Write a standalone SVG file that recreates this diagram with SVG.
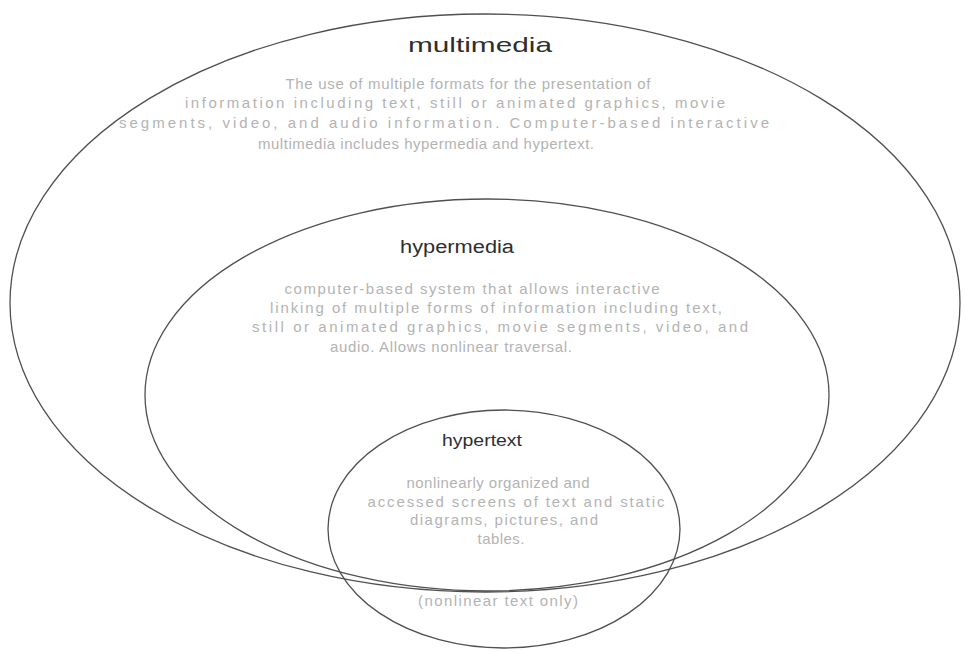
<svg xmlns="http://www.w3.org/2000/svg" width="965" height="653" viewBox="0 0 965 653">
  <style>
    .ring { fill: none; stroke: #505050; stroke-width: 1.3; }
    .title { font-family: "Liberation Sans", Arial, sans-serif; fill: #2e2e2e; text-anchor: middle; }
    .desc { font-family: "Liberation Sans", Arial, sans-serif; font-size: 15px; fill: #b3b3b3; text-anchor: middle; }
  </style>
  <rect width="965" height="653" fill="#ffffff"/>

  <!-- outermost set -->
  <g id="multimedia">
    <ellipse class="ring" cx="485" cy="303" rx="475" ry="289"/>
    <text class="title" x="480" y="52" font-size="21" textLength="144" lengthAdjust="spacingAndGlyphs">multimedia</text>
    <text class="desc" x="468" y="89" textLength="365" lengthAdjust="spacing">The use of multiple formats for the presentation of</text>
    <text class="desc" x="455" y="108" textLength="540" lengthAdjust="spacing">information including text, still or animated graphics, movie</text>
    <text class="desc" x="444" y="128" textLength="650" lengthAdjust="spacing">segments, video, and audio information. Computer-based interactive</text>
    <text class="desc" x="426" y="149" textLength="336" lengthAdjust="spacing">multimedia includes hypermedia and hypertext.</text>
  </g>

  <!-- middle set -->
  <g id="hypermedia">
    <ellipse class="ring" cx="487" cy="395" rx="342" ry="196"/>
    <text class="title" x="457" y="253" font-size="18" textLength="114" lengthAdjust="spacingAndGlyphs">hypermedia</text>
    <text class="desc" x="472" y="294" textLength="375" lengthAdjust="spacing">computer-based system that allows interactive</text>
    <text class="desc" x="496" y="313" textLength="452" lengthAdjust="spacing">linking of multiple forms of information including text,</text>
    <text class="desc" x="500" y="332" textLength="496" lengthAdjust="spacing">still or animated graphics, movie segments, video, and</text>
    <text class="desc" x="451" y="352" textLength="242" lengthAdjust="spacing">audio. Allows nonlinear traversal.</text>
  </g>

  <!-- innermost set -->
  <g id="hypertext">
    <ellipse class="ring" cx="504" cy="529" rx="176" ry="119"/>
    <text class="title" x="482" y="446" font-size="17" textLength="80" lengthAdjust="spacingAndGlyphs">hypertext</text>
    <text class="desc" x="498" y="488" textLength="183" lengthAdjust="spacing">nonlinearly organized and</text>
    <text class="desc" x="516" y="507" textLength="297" lengthAdjust="spacing">accessed screens of text and static</text>
    <text class="desc" x="504" y="525" textLength="188" lengthAdjust="spacing">diagrams, pictures, and</text>
    <text class="desc" x="501" y="544" textLength="47" lengthAdjust="spacing">tables.</text>
    <text class="desc" x="498" y="606" textLength="160" lengthAdjust="spacing">(nonlinear text only)</text>
  </g>
</svg>
